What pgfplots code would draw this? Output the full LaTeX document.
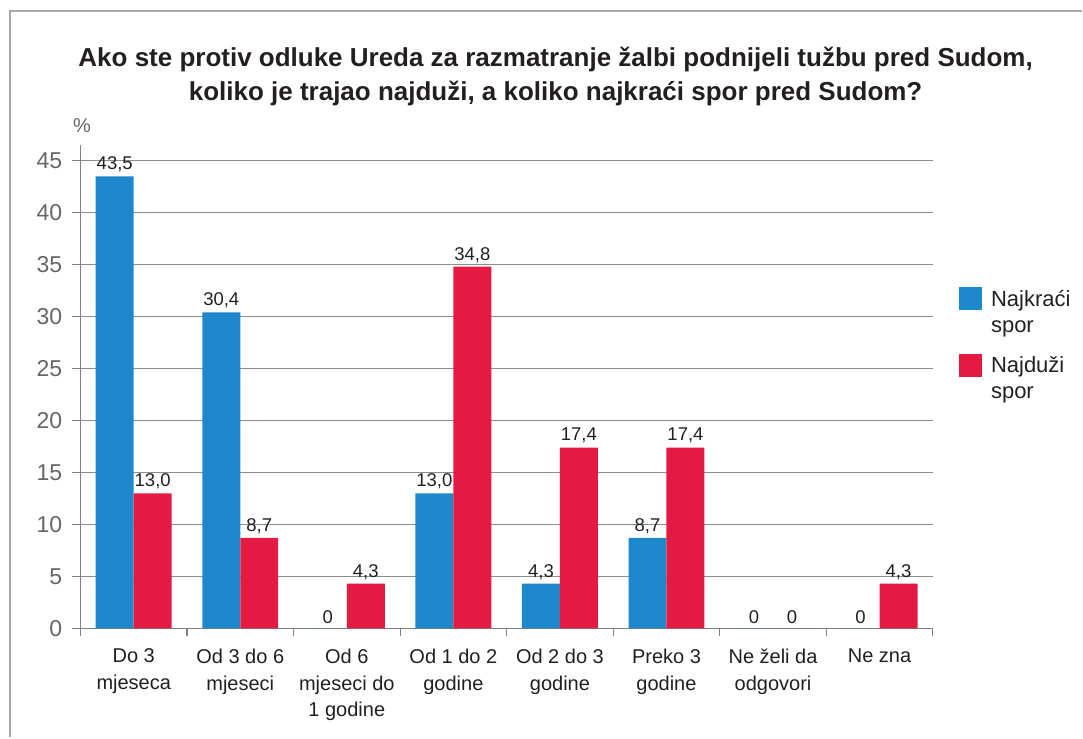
\documentclass[border=0pt]{standalone}
\usepackage{fontspec}
\setmainfont{Liberation Sans}
\usepackage{pgfplots}
\pgfplotsset{compat=1.18}
\definecolor{cblue}{HTML}{1E88CC}
\definecolor{cred}{HTML}{E31B42}
\definecolor{axgray}{HTML}{808080}
\definecolor{gridgray}{HTML}{8C8C8C}
\definecolor{txt}{HTML}{231F20}
\definecolor{tickgray}{HTML}{666666}
\definecolor{framegray}{HTML}{A8A8A8}
\begin{document}
\begin{tikzpicture}[x=1pt,y=1pt]
\path (0,0) rectangle (1083,738);
\draw[framegray, line width=1.5pt] (10,0) -- (10,727) -- (1083,727);
\node[anchor=base, font=\fontsize{26}{30}\selectfont\bfseries, text=txt, inner sep=0pt] at (556,671) {Ako ste protiv odluke Ureda za razmatranje žalbi podnijeli tužbu pred Sudom,};
\node[anchor=base, font=\fontsize{26}{30}\selectfont\bfseries, text=txt, inner sep=0pt] at (556,637) {koliko je trajao najduži, a koliko najkraći spor pred Sudom?};
\node[anchor=base, font=\fontsize{20}{24}\selectfont, text=tickgray, inner sep=0pt] at (82,605) {\%};
\begin{axis}[
  at={(75.5,105)}, anchor=origin,
  scale only axis, width=853pt, height=483.6pt,
  xmin=0, xmax=8, ymin=0, ymax=46.5,
  axis lines*=left,
  axis line style={axgray, line width=1.2pt},
  ytick={0,5,...,45},
  ymajorgrids, grid style={gridgray, line width=1pt},
  tick align=outside, major tick length=8pt,
  tick style={axgray, line width=1.2pt},
  xtick={0,1,...,8}, xticklabels={},
  extra x ticks={0.5,1.5,...,7.5},
  extra x tick labels={{Do 3\\mjeseca},{Od 3 do 6\\mjeseci},{Od 6\\mjeseci do\\1 godine},{Od 1 do 2\\godine},{Od 2 do 3\\godine},{Preko 3\\godine},{Ne želi da\\odgovori},{Ne zna}},
  extra x tick style={major tick length=0pt, tick style={draw=none}},
  xticklabel style={font=\fontsize{20}{27}\selectfont, text=txt, align=center, anchor=north, inner sep=0pt, yshift=-20pt},
  yticklabel style={font=\fontsize{23}{23}\selectfont, text=tickgray, inner sep=0pt, xshift=-10pt},
  /pgf/number format/assume math mode=true,
  ybar=0pt, bar width=38pt,
  nodes near coords, point meta=explicit symbolic,
  every node near coord/.append style={font=\fontsize{18.5}{19}\selectfont, text=txt, inner sep=0pt, anchor=south, yshift=4pt},
  legend style={draw=none, fill=none, at={(1.0305,0.7072)}, anchor=north west, inner sep=0pt, row sep=44pt,
    font=\fontsize{22}{26}\selectfont, text=txt,
    /tikz/every odd column/.append style={column sep=7pt}},
  legend cell align=left,
  legend image code/.code={\fill[#1] (0pt,-11pt) rectangle (23pt,12pt);},
]
\addplot[fill=cblue, draw=none] coordinates {(0.5,43.5)[43,5] (1.5,30.4)[30,4] (2.5,0)[0] (3.5,13.0)[13,0] (4.5,4.3)[4,3] (5.5,8.7)[8,7] (6.5,0)[0] (7.5,0)[0]};
\addlegendentry{\parbox[t]{80pt}{Najkraći\\spor}}
\addplot[fill=cred, draw=none] coordinates {(0.5,13.0)[13,0] (1.5,8.7)[8,7] (2.5,4.3)[4,3] (3.5,34.8)[34,8] (4.5,17.4)[17,4] (5.5,17.4)[17,4] (6.5,0)[0] (7.5,4.3)[4,3]};
\addlegendentry{\parbox[t]{80pt}{Najduži\\spor}}
\end{axis}
\end{tikzpicture}
\end{document}
